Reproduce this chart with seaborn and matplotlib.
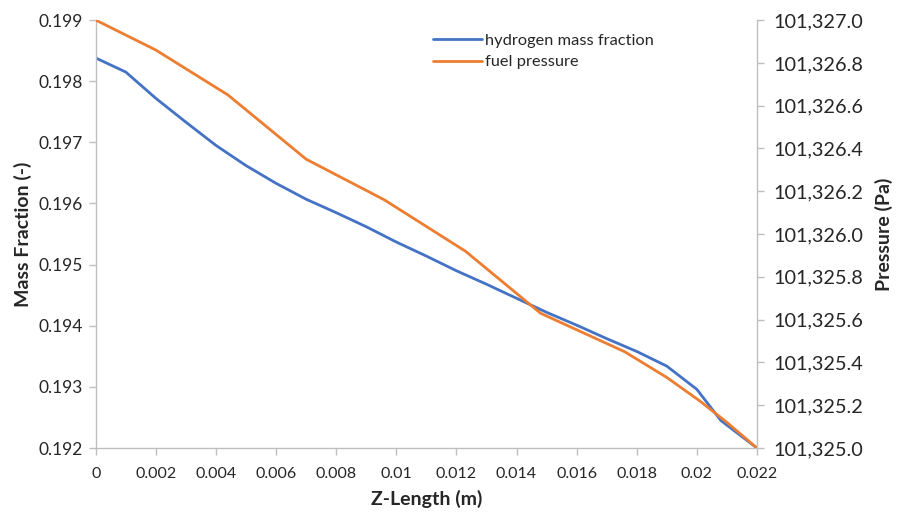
import matplotlib
matplotlib.use("Agg")
import matplotlib.pyplot as plt
import seaborn as sns
import pandas as pd
from matplotlib.ticker import FuncFormatter, MultipleLocator

# Data
z_h2 = [0, 0.001, 0.002, 0.003, 0.004, 0.005, 0.006, 0.007, 0.008, 0.009, 0.010,
        0.011, 0.012, 0.013, 0.014, 0.015, 0.016, 0.017, 0.018, 0.019, 0.020, 0.0208, 0.022]
h2_mass_fraction = [0.19838, 0.19815, 0.19772, 0.19733, 0.19695, 0.19662, 0.19633, 0.19607,
                    0.19585, 0.19562, 0.19537, 0.19514, 0.19490, 0.19468, 0.19445, 0.19422,
                    0.19401, 0.19379, 0.19358, 0.19334, 0.19296, 0.19245, 0.19200]
z_p = [0, 0.001, 0.002, 0.0044, 0.007, 0.0096, 0.0123,
       0.0148, 0.0162, 0.0176, 0.019, 0.0201, 0.021, 0.022]
fuel_pressure = [101327.0, 101326.93, 101326.86, 101326.65, 101326.35,
                 101326.16, 101325.92, 101325.63, 101325.54, 101325.45,
                 101325.33, 101325.22, 101325.12, 101325.0]
x_ticks = [0, 0.002, 0.004, 0.006, 0.008, 0.01, 0.012, 0.014, 0.016, 0.018, 0.02, 0.022]

sns.set_theme(style="white")
plt.rcParams['font.family'] = ['Lato', 'DejaVu Sans']

blue = "#4472C4"
orange = "#ED7D31"
grey = "#BFBFBF"

fig = plt.figure(figsize=(8.99, 5.15), dpi=100)
ax = fig.add_axes([0.1065, 0.130, 0.7355, 0.831])
ax2 = ax.twinx()

df1 = pd.DataFrame({"z": z_h2, "v": h2_mass_fraction})
df2 = pd.DataFrame({"z": z_p, "v": fuel_pressure})
sns.lineplot(data=df1, x="z", y="v", ax=ax, color=blue, linewidth=2.0, label="hydrogen mass fraction", legend=False)
sns.lineplot(data=df2, x="z", y="v", ax=ax2, color=orange, linewidth=2.0, label="fuel pressure", legend=False)

ax.set_xlim(0, 0.022)
ax.set_ylim(0.192, 0.199)
ax2.set_ylim(101325.0, 101327.0)
ax.set_xticks(x_ticks)
ax.xaxis.set_major_formatter(FuncFormatter(lambda v, p: "0" if abs(v) < 1e-12 else f"{v:.3f}".rstrip("0")))
ax.yaxis.set_major_locator(MultipleLocator(0.001))
ax.yaxis.set_major_formatter(FuncFormatter(lambda v, p: f"{v:.3f}"))
ax2.yaxis.set_major_locator(MultipleLocator(0.2))
ax2.yaxis.set_major_formatter(FuncFormatter(lambda v, p: f"{v:,.1f}"))

for a in (ax, ax2):
    for s in a.spines.values():
        s.set_color(grey)
        s.set_linewidth(1.0)
    a.spines['top'].set_visible(False)
    a.grid(False)
ax.spines['right'].set_visible(False)
ax2.spines['left'].set_visible(False)
ax2.spines['bottom'].set_visible(False)

ax.tick_params(axis='x', direction='out', length=5, width=1, color=grey, labelsize=11.5, pad=9, bottom=True)
ax.tick_params(axis='y', direction='out', length=5, width=1, color=grey, labelsize=12.5, pad=4, left=True)
ax2.tick_params(axis='y', direction='out', length=5, width=1, color=grey, labelsize=14.3, pad=7, right=True)
for lab in ax.get_xticklabels() + ax.get_yticklabels() + ax2.get_yticklabels():
    lab.set_color("#262626")

ax.set_xlabel("Z-Length (m)", fontsize=14, fontweight="bold", labelpad=6, color="#262626")
ax.set_ylabel("Mass Fraction (-)", fontsize=14, fontweight="bold", labelpad=5, color="#262626")
ax2.set_ylabel("Pressure (Pa)", fontsize=14, fontweight="bold", labelpad=8, color="#262626")

h1, l1 = ax.get_legend_handles_labels()
h2, l2 = ax2.get_legend_handles_labels()
leg = ax2.legend(h1 + h2, l1 + l2, loc="upper left", bbox_to_anchor=(0.50, 0.985), frameon=False,
                 fontsize=11.8, handlelength=3.0, handletextpad=0.15, labelspacing=0.45, borderaxespad=0)
for t in leg.get_texts():
    t.set_color("#262626")

fig.savefig("out.png", dpi=100)
